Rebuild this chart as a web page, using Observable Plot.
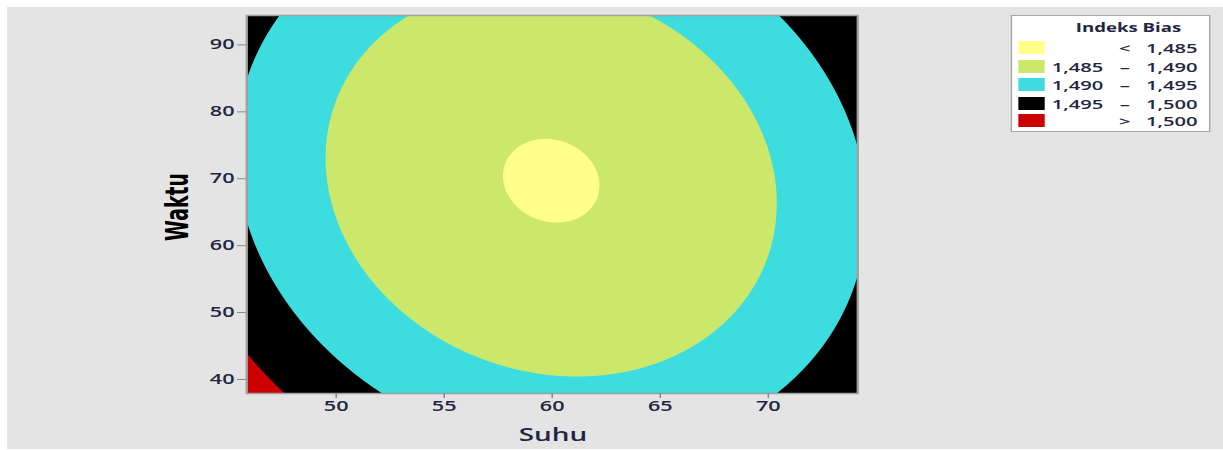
<!DOCTYPE html>
<html>
<head>
<meta charset="utf-8">
<script src="https://cdn.jsdelivr.net/npm/d3@7"></script>
<script src="https://cdn.jsdelivr.net/npm/@observablehq/plot@0.6"></script>
<style>
  body { margin: 0; background: #ffffff; width: 1223px; height: 450px; overflow: hidden; }
  #bg { position: absolute; left: 7px; top: 7px; width: 1216px; height: 442px; background: #e4e4e4; }
  #wrap { position: absolute; left: 0; top: 0; width: 789px; height: 450px; transform: scaleX(1.55); transform-origin: 0 0; }
  .lbl { position: absolute; color: #1f2742; font-family: "Open Sans", "DejaVu Sans", sans-serif; white-space: nowrap; }
  #legend { position: absolute; left: 651.6px; top: 15px; width: 129px; height: 117px; background: #ffffff; border: 1px solid #a8a8a8; box-sizing: border-box; }
  .row { position: absolute; left: 0; width: 129px; height: 14px; font-family: "Open Sans", "DejaVu Sans", sans-serif; font-size: 13px; font-weight: 600; color: #1f2742; line-height: 14px; }
  .sw { position: absolute; left: 4.5px; width: 17px; height: 13px; top: 0; }
  .lo { position: absolute; left: 26px; top: 0; }
  .sym { position: absolute; left: 64px; width: 18px; text-align: center; top: 0; }
  .hi { position: absolute; right: 9px; top: 0; }
</style>
</head>
<body>
<div id="bg"></div>
<div id="wrap"></div>
<script>
// ---- data ----
const xDomain = [45.86, 74.14];          // Suhu
const yDomain = [37.9, 94.4];            // Waktu
const xTicks = [50, 55, 60, 65, 70];
const yTicks = [40, 50, 60, 70, 80, 90];
// fitted response surface (Indeks Bias)
const surfaceCenter = [59.95, 69.7];     // [Suhu, Waktu] of minimum
const surfaceMin = 1.48476;
const surfaceCurvature = [4.87e-5, 6.2e-6, 4.0e-6]; // [Suhu², Waktu², Suhu·Waktu]
const cuts = [1.485, 1.490, 1.495, 1.500];
const bandColors = ["#ffff8a", "#cbe86b", "#3cdcdf", "#000000", "#cc0000"];
const legendLow = ["", "1,485", "1,490", "1,495", ""];
const legendSym = ["<", "–", "–", "–", ">"];
const legendHigh = ["1,485", "1,490", "1,495", "1,500", "1,500"];
const legendTitle = "Indeks Bias";
const xLabel = "Suhu";
const yLabel = "Waktu";

// ---- chart ----
const bias = (x, y) => {
  const u = x - surfaceCenter[0], v = y - surfaceCenter[1];
  return surfaceMin + surfaceCurvature[0] * u * u + surfaceCurvature[1] * v * v + surfaceCurvature[2] * u * v;
};

const W = 789;
const chart = Plot.plot({
  width: W,
  height: 450,
  marginLeft: 158.7,
  marginRight: W - 552.9,
  marginTop: 15,
  marginBottom: 57,
  style: { background: "transparent", fontFamily: "'Open Sans', 'DejaVu Sans', sans-serif", fontSize: "14px", fontWeight: 600, overflow: "visible" },
  x: { domain: xDomain },
  y: { domain: yDomain },
  color: { type: "threshold", domain: cuts, range: bandColors },
  marks: [
    Plot.contour({
      x1: xDomain[0], x2: xDomain[1], y1: yDomain[0], y2: yDomain[1],
      fill: bias,
      thresholds: [1.47, ...cuts],
      stroke: "none",
      pixelSize: 0.5
    }),
    Plot.frame({ stroke: "#a0a0a0", strokeWidth: 1.5 }),
    Plot.axisX(xTicks, { tickSize: 5, tickPadding: 3, stroke: "#8a8a8a", fill: "#1f2742", label: null }),
    Plot.axisY(yTicks, { tickSize: 5.8, tickPadding: 2, stroke: "#8a8a8a", fill: "#1f2742", label: null })
  ]
});
const wrap = document.getElementById("wrap");
wrap.appendChild(chart);
chart.style.position = "absolute";
chart.style.left = "0px";
chart.style.top = "0px";

// axis titles
const sx = document.createElement("div");
sx.className = "lbl";
sx.textContent = xLabel;
sx.style.cssText += "left:356.8px;top:422px;font-size:18px;font-weight:600;transform:translateX(-50%);";
wrap.appendChild(sx);

const sy = document.createElement("div");
sy.className = "lbl";
sy.textContent = yLabel;
sy.style.cssText += "left:114.2px;top:207px;font-family:'Liberation Sans Narrow','DejaVu Sans Condensed','Arial Narrow',sans-serif;font-stretch:condensed;font-size:21px;font-weight:700;color:#000;transform:translate(-50%,-50%) rotate(-90deg);";
wrap.appendChild(sy);

// legend
const lg = document.createElement("div");
lg.id = "legend";
const t = document.createElement("div");
t.className = "row";
t.style.cssText = "top:5px;text-align:center;font-size:12px;font-weight:700;left:11px;";
t.textContent = legendTitle;
lg.appendChild(t);
const rowTops = [24.5, 44, 62, 80.5, 98];
bandColors.forEach((c, i) => {
  const r = document.createElement("div");
  r.className = "row";
  r.style.top = rowTops[i] + "px";
  r.innerHTML = `<div class="sw" style="background:${c}"></div><span class="lo">${legendLow[i]}</span><span class="sym">${legendSym[i]}</span><span class="hi">${legendHigh[i]}</span>`;
  lg.appendChild(r);
});
wrap.appendChild(lg);
</script>
</body>
</html>
